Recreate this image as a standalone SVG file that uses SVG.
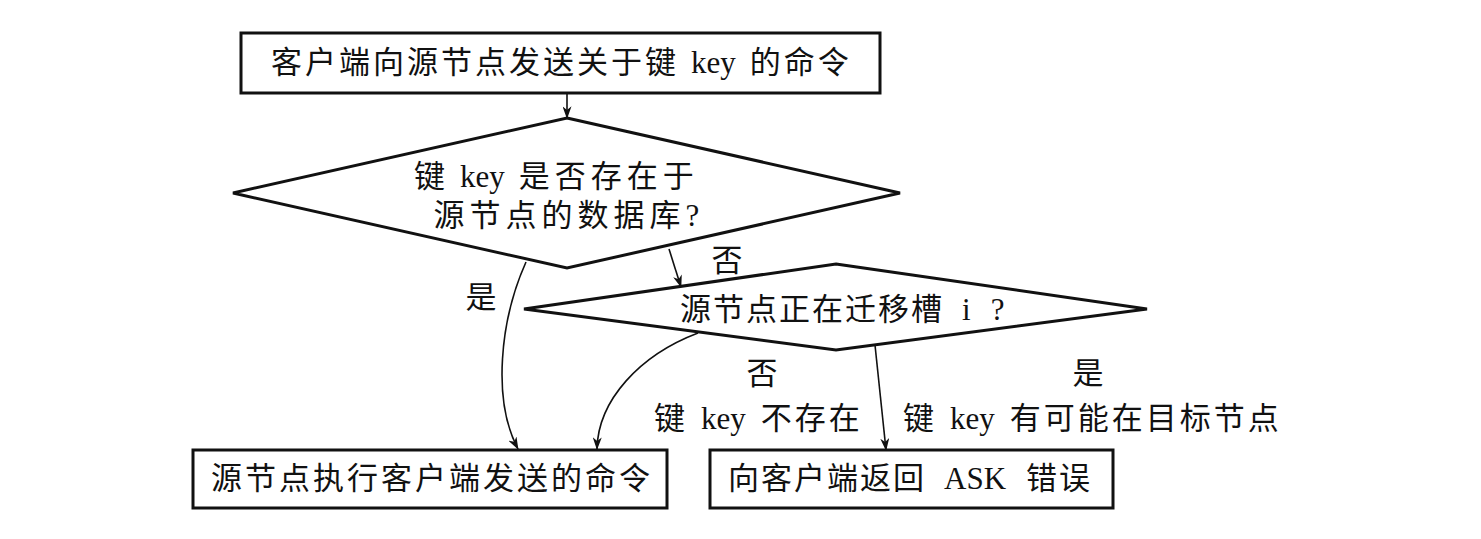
<svg xmlns="http://www.w3.org/2000/svg" width="1481" height="539" viewBox="0 0 1481 539">
  <style>
    .shape { fill: #fff; stroke: #111; stroke-width: 3; stroke-linejoin: miter; }
    .edge { fill: none; stroke: #111; stroke-width: 1.6; marker-end: url(#arrow); }
    text { font-family: "Liberation Serif", "Noto Sans CJK SC", serif; font-size: 31px; fill: #111; dominant-baseline: central; }
    .mid { text-anchor: middle; }
    .cjk { letter-spacing: 2px; }
    .wide { letter-spacing: 3px; }
    .wider { letter-spacing: 5px; }
  </style>
  <defs>
    <marker id="arrow" viewBox="0 0 14 10" refX="13" refY="5" markerWidth="13" markerHeight="9" markerUnits="userSpaceOnUse" orient="auto">
      <path d="M0,0 L14,5 L0,10 L4,5 Z" fill="#111"/>
    </marker>
  </defs>
  <rect width="1481" height="539" fill="#fff"/>

  <g id="connectors">
    <path class="edge" d="M567,93 L567,118"/>
    <path class="edge" d="M669,249 L681,287"/>
    <path class="edge" d="M526,262 C500,320 492,400 518,449"/>
    <path class="edge" d="M698,333 C640,355 598,400 597,449"/>
    <path class="edge" d="M875,345 L886,450"/>
  </g>

  <g id="send-command">
    <rect class="shape" x="241" y="33" width="639" height="60"/>
    <text x="271" y="62"><tspan class="wide">客户端向源节点发送关于键</tspan><tspan dx="12">key</tspan><tspan dx="14" class="wide">的命令</tspan></text>
  </g>

  <g id="key-exists">
    <polygon class="shape" points="567,118 900,193 567,268 233,193"/>
    <text x="414" y="176"><tspan class="wide">键</tspan><tspan dx="12">key</tspan><tspan dx="14" class="wider">是否存在于</tspan></text>
    <text class="mid wider" x="569" y="215">源节点的数据库?</text>
  </g>

  <g id="migrating">
    <polygon class="shape" points="836,264 1147,309 836,350 524,309"/>
    <text x="680" y="309"><tspan class="cjk">源节点正在迁移槽</tspan><tspan dx="18">i</tspan><tspan dx="20">?</tspan></text>
  </g>

  <g id="execute">
    <rect class="shape" x="193" y="450" width="474" height="58"/>
    <text class="mid wide" x="432" y="478">源节点执行客户端发送的命令</text>
  </g>

  <g id="ask-error">
    <rect class="shape" x="710" y="450" width="403" height="58"/>
    <text x="728" y="478"><tspan class="cjk">向客户端返回</tspan><tspan dx="18">ASK</tspan><tspan dx="20" class="cjk">错误</tspan></text>
  </g>

  <g id="labels">
    <text class="mid" x="727" y="260">否</text>
    <text class="mid" x="481" y="297">是</text>
    <text class="mid" x="762" y="373">否</text>
    <text x="654" y="418"><tspan class="wide">键</tspan><tspan dx="13">key</tspan><tspan dx="15" class="wide">不存在</tspan></text>
    <text class="mid" x="1088" y="373">是</text>
    <text x="903" y="418"><tspan class="wide">键</tspan><tspan dx="13">key</tspan><tspan dx="15" class="wide">有可能在目标节点</tspan></text>
  </g>
</svg>
